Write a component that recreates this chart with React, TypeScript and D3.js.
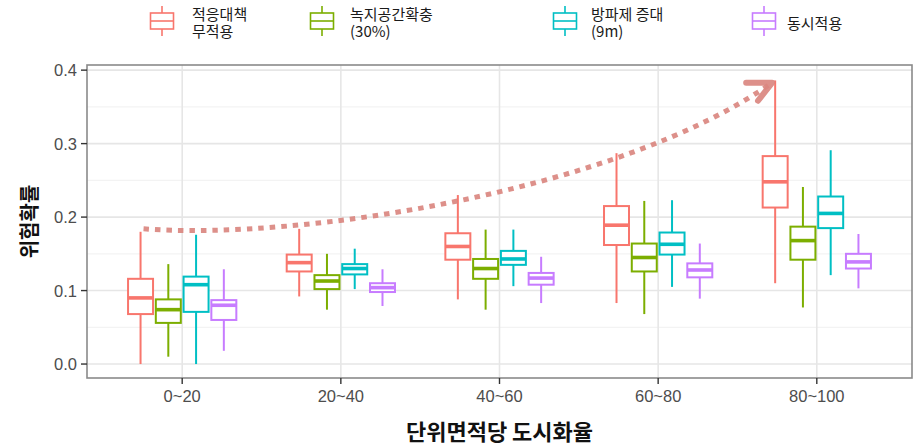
import React from "react";
import * as d3 from "d3";

// ---- data ----
const categories = ["0~20", "20~40", "40~60", "60~80", "80~100"];
const seriesLabels = [["적응대책", "무적용"], ["녹지공간확충", "(30%)"], ["방파제 증대", "(9m)"], ["동시적용"]];
const seriesColors = ["#F8766D", "#7CAE00", "#00BFC4", "#C77CFF"];
// [min, q1, median, q3, max] per category
const noAdapt = [
  [0.0, 0.068, 0.09, 0.116, 0.18],
  [0.092, 0.126, 0.138, 0.149, 0.184],
  [0.088, 0.142, 0.16, 0.178, 0.23],
  [0.083, 0.162, 0.189, 0.215, 0.287],
  [0.11, 0.213, 0.248, 0.283, 0.386],
];
const greenSpace = [
  [0.01, 0.056, 0.074, 0.088, 0.136],
  [0.074, 0.102, 0.113, 0.121, 0.15],
  [0.074, 0.116, 0.13, 0.143, 0.183],
  [0.068, 0.126, 0.145, 0.164, 0.222],
  [0.077, 0.142, 0.168, 0.187, 0.241],
];
const seawall = [
  [0.0, 0.071, 0.108, 0.119, 0.176],
  [0.102, 0.122, 0.13, 0.136, 0.157],
  [0.106, 0.135, 0.143, 0.154, 0.183],
  [0.105, 0.149, 0.163, 0.179, 0.223],
  [0.121, 0.185, 0.205, 0.228, 0.291],
];
const combined = [
  [0.018, 0.06, 0.08, 0.087, 0.129],
  [0.079, 0.098, 0.104, 0.11, 0.129],
  [0.083, 0.108, 0.117, 0.124, 0.146],
  [0.089, 0.118, 0.128, 0.137, 0.164],
  [0.103, 0.13, 0.139, 0.15, 0.177],
];
const seriesData = [noAdapt, greenSpace, seawall, combined];
const yTicks = [0, 0.1, 0.2, 0.3, 0.4];
const yMinor = [0.05, 0.15, 0.25, 0.35];

const W = 918, H = 446;
const PL = 87, PR = 912, PT = 65, PB = 378;
const KR = "'Noto Sans CJK KR', 'Noto Sans', sans-serif";
const NUM = "'Liberation Sans', Arial, sans-serif";

export default function App() {
  const x = d3.scalePoint<string>().domain(categories).range([PL, PR]).padding(0.6);
  const step = x.step();
  const inner = d3.scaleBand<number>().domain([0, 1, 2, 3]).range([-0.35 * step, 0.35 * step]);
  const bw = inner.bandwidth() * 0.9;
  const y = d3.scaleLinear().domain([-0.019, 0.407]).range([PB, PT]);

  // annotation arrow
  const sx = (x(categories[0]) as number) + (inner(0) as number) + inner.bandwidth() / 2 + 3;
  const sy = y(0.184);
  const ex = (x(categories[4]) as number) + (inner(0) as number) + inner.bandwidth() / 2 - 3;
  const ey = y(0.383);
  const c1x = sx + 157, c1y = y(0.168);
  const c2x = (x(categories[3]) as number) - 39, c2y = y(0.236);
  const arrowPath = `M${sx},${sy} C${c1x},${c1y} ${c2x},${c2y} ${ex},${ey}`;
  const armLen1 = 26, armLen2 = 23;
  const a1 = Math.PI, a2 = (128 * Math.PI) / 180;
  const chevron = `M${ex + armLen1 * Math.cos(a1)},${ey + armLen1 * Math.sin(a1)} L${ex},${ey} L${ex + armLen2 * Math.cos(a2)},${ey + armLen2 * Math.sin(a2)}`;

  const legendKeyX = [162, 322, 565, 764];
  const legendTextX = [192, 350, 591, 787];

  return (
    <svg width={W} height={H} style={{ position: "absolute", left: 0, top: 0, background: "#fff" }}>
      {/* grid */}
      {yMinor.map((t) => (
        <line key={"mn" + t} x1={PL} x2={PR} y1={y(t)} y2={y(t)} stroke="#F3F3F3" strokeWidth={1.2} />
      ))}
      {yTicks.map((t) => (
        <line key={"mj" + t} x1={PL} x2={PR} y1={y(t)} y2={y(t)} stroke="#E6E6E6" strokeWidth={1.6} />
      ))}
      {categories.map((c) => (
        <line key={"vg" + c} x1={x(c)} x2={x(c)} y1={PT} y2={PB} stroke="#E6E6E6" strokeWidth={1.6} />
      ))}

      {/* boxes */}
      {seriesData.map((ser, si) =>
        ser.map((s, ci) => {
          const cx = (x(categories[ci]) as number) + (inner(si) as number) + inner.bandwidth() / 2;
          const col = seriesColors[si];
          return (
            <g key={`b${si}-${ci}`}>
              <line x1={cx} x2={cx} y1={y(s[4])} y2={y(s[3])} stroke={col} strokeWidth={2} />
              <line x1={cx} x2={cx} y1={y(s[1])} y2={y(s[0])} stroke={col} strokeWidth={2} />
              <rect x={cx - bw / 2} y={y(s[3])} width={bw} height={y(s[1]) - y(s[3])} fill="#fff" stroke={col} strokeWidth={2} />
              <line x1={cx - bw / 2} x2={cx + bw / 2} y1={y(s[2])} y2={y(s[2])} stroke={col} strokeWidth={3.6} />
            </g>
          );
        })
      )}

      {/* annotation */}
      <path d={arrowPath} fill="none" stroke="#DA8780" strokeWidth={5} strokeDasharray="5.5 6" opacity={0.92} />
      <path d={chevron} fill="none" stroke="#DA8780" strokeWidth={6} strokeLinejoin="round" strokeLinecap="round" opacity={0.92} />

      {/* border */}
      <rect x={PL} y={PT} width={PR - PL} height={PB - PT} fill="none" stroke="#8A8A8A" strokeWidth={1.6} />

      {/* y axis */}
      {yTicks.map((t) => (
        <g key={"yt" + t}>
          <line x1={PL - 6} x2={PL} y1={y(t)} y2={y(t)} stroke="#333" strokeWidth={1.4} />
          <text x={PL - 10} y={y(t)} textAnchor="end" dominantBaseline="central" fontFamily={NUM} fontSize={16.5} fill="#4D4D4D">
            {t.toFixed(1)}
          </text>
        </g>
      ))}
      {/* x axis */}
      {categories.map((c) => (
        <g key={"xt" + c}>
          <line x1={x(c)} x2={x(c)} y1={PB} y2={PB + 6} stroke="#333" strokeWidth={1.4} />
          <text x={x(c)} y={PB + 18} textAnchor="middle" dominantBaseline="central" fontFamily={NUM} fontSize={16.5} fill="#4D4D4D">
            {c}
          </text>
        </g>
      ))}

      {/* axis titles */}
      <text x={(PL + PR) / 2} y={440} textAnchor="middle" fontFamily={KR} fontWeight="bold" fontSize={22} fill="#111">
        단위면적당 도시화율
      </text>
      <text transform={`translate(37, ${(PT + PB) / 2}) rotate(-90)`} textAnchor="middle" fontFamily={KR} fontWeight="bold" fontSize={20} fill="#111">
        위험확률
      </text>

      {/* legend */}
      {seriesLabels.map((lab, i) => {
        const kx = legendKeyX[i];
        const col = seriesColors[i];
        const kw = 23, top = 13, bot = 29;
        return (
          <g key={"lg" + i}>
            <line x1={kx} x2={kx} y1={6} y2={top} stroke={col} strokeWidth={1.6} />
            <line x1={kx} x2={kx} y1={bot} y2={36} stroke={col} strokeWidth={1.6} />
            <rect x={kx - kw / 2} y={top} width={kw} height={bot - top} fill="#fff" stroke={col} strokeWidth={1.6} />
            <line x1={kx - kw / 2} x2={kx + kw / 2} y1={(top + bot) / 2} y2={(top + bot) / 2} stroke={col} strokeWidth={1.6} />
            {lab.length === 2 ? (
              <text x={legendTextX[i]} y={19.5} fontFamily={KR} fontSize={15} fill="#1a1a1a">
                <tspan x={legendTextX[i]} y={19.5}>{lab[0]}</tspan>
                <tspan x={legendTextX[i]} y={36.5}>{lab[1]}</tspan>
              </text>
            ) : (
              <text x={legendTextX[i]} y={28.5} fontFamily={KR} fontSize={15} fill="#1a1a1a">{lab[0]}</text>
            )}
          </g>
        );
      })}
    </svg>
  );
}
